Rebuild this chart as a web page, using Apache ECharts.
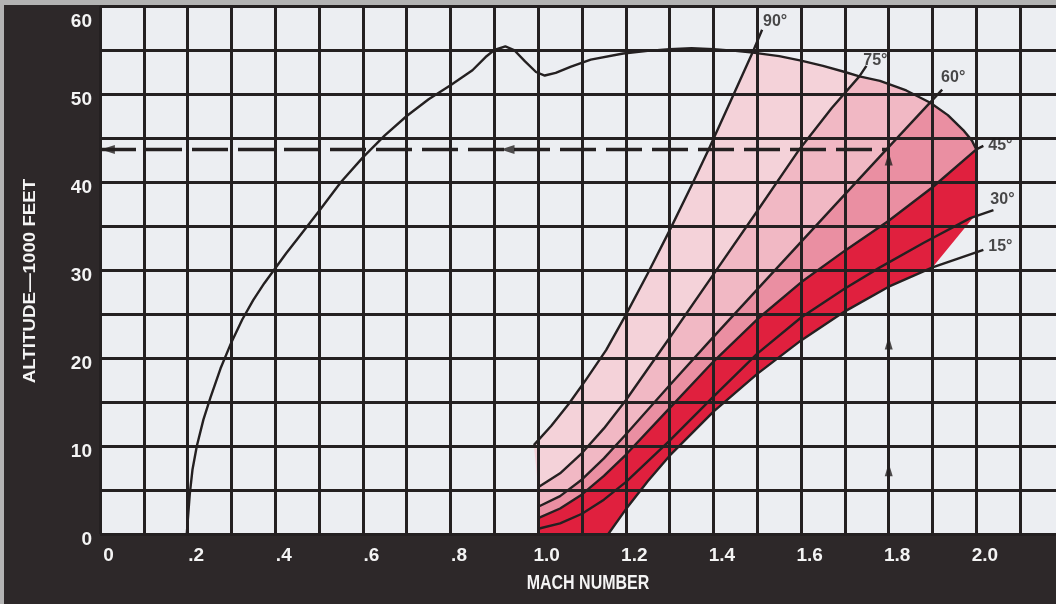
<!DOCTYPE html>
<html>
<head>
<meta charset="utf-8">
<script src="https://cdn.jsdelivr.net/npm/echarts/dist/echarts.min.js"></script>
<style>
  html, body { margin: 0; padding: 0; background: #2d2829; overflow: hidden; }
  #chart { width: 1072px; height: 604px; }
</style>
</head>
<body>
<div id="chart"></div>
<script>
// Tick labels
const machTickLabels = ['0', '.2', '.4', '.6', '.8', '1.0', '1.2', '1.4', '1.6', '1.8', '2.0'];
const altTickLabels = ['0', '10', '20', '30', '40', '50', '60'];

// Flight envelope boundary [Mach, altitude in 1000 ft]
const envelope = [
  [0.198, 0], [0.201, 2.0], [0.205, 4.6], [0.211, 7.3], [0.221, 10.0], [0.236, 13.0], [0.252, 15.5],
  [0.275, 18.8], [0.300, 21.8], [0.325, 24.4], [0.350, 26.6], [0.375, 28.5], [0.400, 30.2],
  [0.425, 31.9], [0.450, 33.5], [0.500, 36.7], [0.550, 40.0], [0.600, 42.8], [0.650, 45.3],
  [0.700, 47.5], [0.750, 49.4], [0.800, 51.0], [0.850, 52.7], [0.880, 54.2], [0.900, 55.0],
  [0.925, 55.4], [0.945, 55.0], [0.970, 53.7], [0.995, 52.5], [1.015, 52.1], [1.040, 52.4],
  [1.075, 53.1], [1.120, 53.9], [1.194, 54.6], [1.250, 54.9], [1.300, 55.1], [1.350, 55.2],
  [1.400, 55.1], [1.450, 54.9], [1.490, 54.7], [1.550, 54.3], [1.600, 53.8], [1.650, 53.2],
  [1.700, 52.5], [1.733, 52.0], [1.780, 51.5], [1.840, 50.4], [1.895, 49.0], [1.935, 47.6],
  [1.970, 45.9], [1.990, 44.7], [2.000, 43.7]
];

// Climb-angle lines; the last point of each is the leader running to its label
const climb90 = [[0.99, 10.1], [1.03, 12.3], [1.07, 14.8], [1.11, 17.6], [1.155, 20.9], [1.20, 24.9],
  [1.25, 29.6], [1.30, 34.5], [1.35, 39.6], [1.39, 43.8], [1.44, 49.3], [1.49, 54.8], [1.511, 57.3]];
const climb75 = [[1.0, 5.3], [1.05, 6.9], [1.1, 9.2], [1.15, 12.0], [1.2, 15.2], [1.3, 22.3],
  [1.4, 29.5], [1.5, 36.7], [1.596, 43.7], [1.67, 48.4], [1.733, 52.0], [1.749, 53.2]];
const climb60 = [[1.0, 3.1], [1.05, 4.3], [1.1, 6.2], [1.15, 8.6], [1.2, 11.3], [1.3, 16.9],
  [1.4, 22.4], [1.5, 27.8], [1.6, 33.2], [1.7, 38.6], [1.795, 43.7], [1.89, 48.8], [1.922, 50.5]];
const climb45 = [[1.0, 1.8], [1.05, 2.9], [1.1, 4.5], [1.15, 6.6], [1.2, 9.0], [1.3, 14.3],
  [1.4, 19.6], [1.5, 24.4], [1.6, 28.6], [1.7, 32.2], [1.8, 35.6], [1.9, 39.4], [2.0, 43.7], [2.016, 44.1]];
const climb30 = [[1.0, 0.6], [1.05, 1.2], [1.1, 2.3], [1.15, 3.9], [1.2, 5.9], [1.3, 10.6],
  [1.4, 15.6], [1.5, 20.5], [1.6, 24.6], [1.7, 27.9], [1.78, 30.3], [1.88, 33.1], [1.986, 35.9], [2.039, 36.8]];
const climb15 = [[1.16, 0], [1.2, 2.8], [1.25, 6.0], [1.3, 8.9], [1.4, 13.9], [1.5, 18.2],
  [1.6, 22.0], [1.7, 25.3], [1.8, 28.1], [1.9, 30.3], [2.016, 32.3]];
const angleNames = ['90°', '75°', '60°', '45°', '30°', '15°'];

// Outline of the steepest-climb zone beyond the 45° and 15° lines
const redEdge = [[2.0, 36.4]];
const redBase = [1.0, 0];

// Worked example: Mach 1.8 at a 60° climb reaches 43,700 ft
const readoutMach = 1.8;
const readoutAlt = 43.7;
const readoutArrowMach = [0.018, 0.93];
const readoutArrowAlt = [42.6, 21.7, 7.3];

const INK = '#242021';
const FONT = "'Liberation Sans', Arial, sans-serif";

function segCross(a, b, c, d) {
  const rx = b[0] - a[0], ry = b[1] - a[1];
  const sx = d[0] - c[0], sy = d[1] - c[1];
  const den = rx * sy - ry * sx;
  if (Math.abs(den) < 1e-12) return null;
  const qx = c[0] - a[0], qy = c[1] - a[1];
  const t = (qx * sy - qy * sx) / den;
  const u = (qx * ry - qy * rx) / den;
  if (t < -1e-9 || t > 1 + 1e-9 || u < -1e-9 || u > 1 + 1e-9) return null;
  return [a[0] + t * rx, a[1] + t * ry];
}

// Where a climb line runs into the envelope
function meetEnvelope(curve) {
  for (let i = 0; i < curve.length - 1; i++) {
    for (let j = 0; j < envelope.length - 1; j++) {
      const p = segCross(curve[i], curve[i + 1], envelope[j], envelope[j + 1]);
      if (p) return { i, j, p };
    }
  }
  return { i: curve.length - 2, j: envelope.length - 1, p: envelope[envelope.length - 1] };
}

function band(upper, lower) {
  const a = meetEnvelope(upper), b = meetEnvelope(lower);
  return [].concat(
    upper.slice(0, a.i + 1), [a.p],
    envelope.slice(a.j + 1, b.j + 1), [b.p],
    lower.slice(0, b.i + 1).reverse()
  );
}

function redZone() {
  const a = meetEnvelope(climb45);
  return [].concat(
    climb45.slice(0, a.i + 1), [a.p],
    redEdge,
    climb15.slice(0, -1).reverse(),
    [redBase]
  );
}

const bands = [
  { pts: band(climb90, climb75), color: '#f4d2d9' },
  { pts: band(climb75, climb60), color: '#f1b8c4' },
  { pts: band(climb60, climb45), color: '#ea8fa2' },
  { pts: redZone(), color: '#e0203e' }
];

const angleCurves = [climb90, climb75, climb60, climb45, climb30, climb15];
const labelOffsets = [[13, -8], [9, -5], [11, -12], [17, 0], [9, -11], [17, -3]];

const lineSeries = (data, width, extra) => Object.assign({
  type: 'line', data, showSymbol: false, silent: true, z: 5,
  lineStyle: { color: INK, width: width, join: 'round' }
}, extra || {});

const series = [
  {
    type: 'custom', z: 2, silent: true,
    data: bands.map(b => b.pts[0]),
    renderItem: (params, api) => {
      const b = bands[params.dataIndex];
      return {
        type: 'polygon',
        shape: { points: b.pts.map(p => api.coord(p)) },
        style: { fill: b.color }
      };
    }
  },
  lineSeries(envelope, 2.4),
  ...angleCurves.map(c => lineSeries(c, 2.4)),
  lineSeries([[0, readoutAlt], [readoutMach, readoutAlt]], 3.6, {
    lineStyle: { color: INK, width: 3.6, type: [36, 10], cap: 'butt' }
  }),
  lineSeries([[readoutMach, 0], [readoutMach, readoutAlt]], 2),
  {
    type: 'scatter', z: 6, silent: true,
    symbol: 'triangle', symbolSize: [9, 14], symbolRotate: 90,
    itemStyle: { color: INK },
    data: readoutArrowMach.map(m => [m, readoutAlt])
  },
  {
    type: 'scatter', z: 6, silent: true,
    symbol: 'triangle', symbolSize: [8, 13], symbolRotate: 0,
    itemStyle: { color: INK },
    data: readoutArrowAlt.map(a => [readoutMach, a])
  },
  {
    type: 'scatter', z: 7, silent: true, symbolSize: 0,
    data: angleCurves.map((c, k) => ({
      value: c[c.length - 1], name: angleNames[k],
      label: { offset: labelOffsets[k] }
    })),
    label: {
      show: true, position: 'inside', formatter: '{b}',
      color: '#1d1b1b', fontSize: 16, fontWeight: 'bold', fontFamily: FONT
    }
  }
];

const tickFont = { color: '#f4f4f4', fontSize: 19, fontWeight: 'bold', fontFamily: FONT };

const option = {
  animation: false,
  backgroundColor: '#2d2829',
  grid: {
    left: 100, top: 6, width: 964, height: 528,
    show: true, backgroundColor: '#eceef2', borderWidth: 0
  },
  xAxis: {
    type: 'value', min: 0, max: 2.2, interval: 0.1, z: 3,
    axisLine: { show: false }, axisTick: { show: false },
    splitLine: { show: true, lineStyle: { color: INK, width: 3 } },
    axisLabel: Object.assign({
      margin: 12, padding: [0, 0, 0, 17],
      formatter: v => {
        const k = Math.round(v * 10);
        return k % 2 === 0 && k / 2 < machTickLabels.length ? machTickLabels[k / 2] : '';
      }
    }, tickFont)
  },
  yAxis: {
    type: 'value', min: 0, max: 60, interval: 5, z: 3,
    axisLine: { show: false }, axisTick: { show: false },
    splitLine: { show: true, lineStyle: { color: INK, width: 3 } },
    axisLabel: {
      margin: 8,
      formatter: v => {
        if (v % 10 !== 0) return '';
        const t = altTickLabels[v / 10];
        return v === 60 ? '{hi|' + t + '}' : '{lo|' + t + '}';
      },
      rich: {
        lo: Object.assign({ padding: [12, 0, 0, 0] }, tickFont),
        hi: Object.assign({ padding: [32, 0, 0, 0] }, tickFont)
      }
    }
  },
  graphic: [
    { type: 'rect', left: 0, top: 0, shape: { width: 1072, height: 5 }, style: { fill: '#b3b3b3' }, z: 100 },
    { type: 'rect', left: 0, top: 0, shape: { width: 4, height: 604 }, style: { fill: '#b3b3b3' }, z: 100 },
    {
      type: 'text', x: 30, y: 281, rotation: Math.PI / 2, scaleX: 1.1, z: 100,
      style: {
        text: 'ALTITUDE—1000 FEET', fill: '#f4f4f4', align: 'center', verticalAlign: 'middle',
        font: "bold 17px " + FONT
      }
    },
    {
      type: 'text', x: 588, y: 583, scaleX: 0.8, z: 100,
      style: {
        text: 'MACH NUMBER', fill: '#f4f4f4', align: 'center', verticalAlign: 'middle',
        font: "bold 20px " + FONT
      }
    }
  ],
  series
};

const chart = echarts.init(document.getElementById('chart'));
chart.setOption(option);
</script>
</body>
</html>
